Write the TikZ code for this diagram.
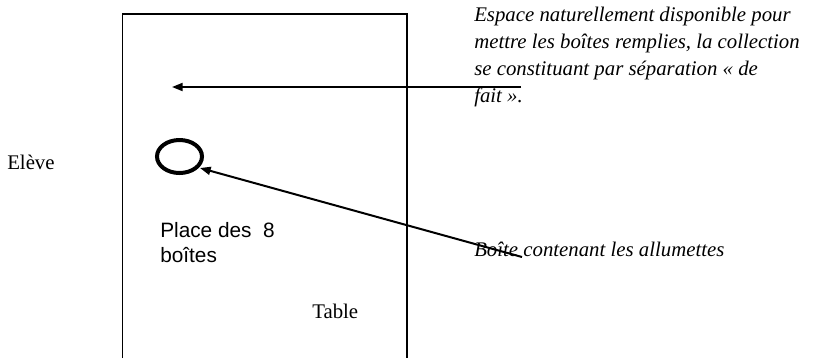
\documentclass[tikz,border=0pt]{standalone}
\usepackage{fontspec}
\setmainfont{Liberation Serif}
\newfontfamily\arialfont{Liberation Sans}
\usetikzlibrary{arrows.meta,shapes.geometric}

\tikzset{
  fleche/.style={line width=1.5pt, -{Triangle[length=8pt,width=6pt]}},
  texte/.style={anchor=base west, inner sep=0pt, font=\fontsize{15.6}{20.25}\selectfont},
  legende/.style={texte, font=\fontsize{15.6}{20.25}\selectfont\itshape, align=left}
}

\begin{document}
\begin{tikzpicture}[x=0.75pt,y=0.75pt,yscale=-1,xscale=1]
\useasboundingbox (0,0) rectangle (813,358);

%Shape: Table (open at the bottom)
\draw [line width=1.2pt]  (122.5,358) -- (122.5,14) -- (407,14) -- (407,358) ;

%Shape: Ellipse
\node (boite) [draw, ellipse, line width=3pt, minimum width=33.75pt, minimum height=24.75pt, inner sep=0pt] at (179.5,156.5) {};
\coordinate (pointe) at (200,168) ;
\coordinate (depart2) at (522,257) ;
\coordinate (depart1) at (521,87) ;
\coordinate (pointe1) at (172,87) ;

%Straight Lines
\draw [fleche]  (depart1) -- (pointe1) ;
%Straight Lines
\draw [fleche]  (depart2) -- (pointe) ;

% Text Node
\node (espace) [legende, anchor=north west] at (474,7) {Espace naturellement disponible pour\\mettre les boîtes remplies, la collection\\se constituant par séparation « de\\fait ».};
% Text Node
\node (allum) [legende] at (474,256) {Boîte contenant les allumettes};
% Text Node
\node (eleve) [texte] at (7,169) {Elève};
% Text Node
\node (place) [texte, anchor=north west, align=left, font=\fontsize{15.6}{18.5}\selectfont\arialfont] at (160,222) {Place des~~8\\boîtes};
% Text Node
\node (table) [texte] at (312,318) {Table};

\end{tikzpicture}
\end{document}
